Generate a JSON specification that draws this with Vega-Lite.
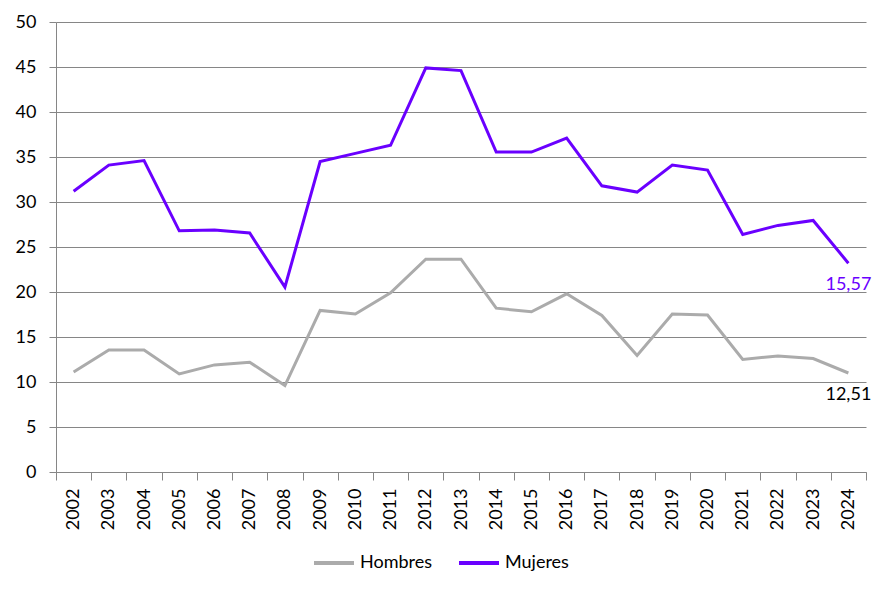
{
  "$schema": "https://vega.github.io/schema/vega-lite/v6.json",
  "width": 810,
  "height": 450,
  "autosize": {"type": "none"},
  "padding": {"left": 56, "top": 22, "right": 21, "bottom": 125},
  "background": "white",
  "data": {
    "values": [
      {"year": "2002", "serie": "Hombres", "value": 11.1},
      {"year": "2003", "serie": "Hombres", "value": 13.55},
      {"year": "2004", "serie": "Hombres", "value": 13.55},
      {"year": "2005", "serie": "Hombres", "value": 10.9},
      {"year": "2006", "serie": "Hombres", "value": 11.9},
      {"year": "2007", "serie": "Hombres", "value": 12.2},
      {"year": "2008", "serie": "Hombres", "value": 9.6},
      {"year": "2009", "serie": "Hombres", "value": 17.95},
      {"year": "2010", "serie": "Hombres", "value": 17.55},
      {"year": "2011", "serie": "Hombres", "value": 19.9},
      {"year": "2012", "serie": "Hombres", "value": 23.65},
      {"year": "2013", "serie": "Hombres", "value": 23.65},
      {"year": "2014", "serie": "Hombres", "value": 18.2},
      {"year": "2015", "serie": "Hombres", "value": 17.8},
      {"year": "2016", "serie": "Hombres", "value": 19.8},
      {"year": "2017", "serie": "Hombres", "value": 17.4},
      {"year": "2018", "serie": "Hombres", "value": 12.95},
      {"year": "2019", "serie": "Hombres", "value": 17.55},
      {"year": "2020", "serie": "Hombres", "value": 17.45},
      {"year": "2021", "serie": "Hombres", "value": 12.5},
      {"year": "2022", "serie": "Hombres", "value": 12.9},
      {"year": "2023", "serie": "Hombres", "value": 12.6},
      {"year": "2024", "serie": "Hombres", "value": 11.0, "label": "12,51"},
      {"year": "2002", "serie": "Mujeres", "value": 31.2},
      {"year": "2003", "serie": "Mujeres", "value": 34.1},
      {"year": "2004", "serie": "Mujeres", "value": 34.6},
      {"year": "2005", "serie": "Mujeres", "value": 26.8},
      {"year": "2006", "serie": "Mujeres", "value": 26.9},
      {"year": "2007", "serie": "Mujeres", "value": 26.55},
      {"year": "2008", "serie": "Mujeres", "value": 20.55},
      {"year": "2009", "serie": "Mujeres", "value": 34.5},
      {"year": "2010", "serie": "Mujeres", "value": 35.4},
      {"year": "2011", "serie": "Mujeres", "value": 36.3},
      {"year": "2012", "serie": "Mujeres", "value": 44.9},
      {"year": "2013", "serie": "Mujeres", "value": 44.6},
      {"year": "2014", "serie": "Mujeres", "value": 35.55},
      {"year": "2015", "serie": "Mujeres", "value": 35.55},
      {"year": "2016", "serie": "Mujeres", "value": 37.1},
      {"year": "2017", "serie": "Mujeres", "value": 31.8},
      {"year": "2018", "serie": "Mujeres", "value": 31.1},
      {"year": "2019", "serie": "Mujeres", "value": 34.1},
      {"year": "2020", "serie": "Mujeres", "value": 33.55},
      {"year": "2021", "serie": "Mujeres", "value": 26.4},
      {"year": "2022", "serie": "Mujeres", "value": 27.4},
      {"year": "2023", "serie": "Mujeres", "value": 27.95},
      {"year": "2024", "serie": "Mujeres", "value": 23.2, "label": "15,57"}
    ]
  },
  "encoding": {
    "x": {
      "field": "year",
      "type": "ordinal",
      "title": null,
      "scale": {"type": "band", "paddingInner": 0, "paddingOuter": 0},
      "axis": {
        "labelAngle": -90,
        "labelAlign": "right",
        "labelBaseline": "middle",
        "labelFontSize": 18,
        "labelPadding": 8,
        "tickBand": "extent",
        "tickSize": 8,
        "tickColor": "#868686",
        "domainColor": "#868686",
        "grid": false
      }
    },
    "y": {
      "field": "value",
      "type": "quantitative",
      "title": null,
      "scale": {"domain": [0, 50], "nice": false},
      "axis": {
        "values": [0, 5, 10, 15, 20, 25, 30, 35, 40, 45, 50],
        "labelFontSize": 18,
        "labelPadding": 13,
        "tickSize": 7,
        "tickColor": "#868686",
        "domainColor": "#868686",
        "gridColor": "#868686",
        "gridOpacity": 1
      }
    }
  },
  "layer": [
    {
      "mark": {"type": "line", "strokeWidth": 3},
      "encoding": {
        "color": {
          "field": "serie",
          "type": "nominal",
          "scale": {"domain": ["Hombres", "Mujeres"], "range": ["#ABABAB", "#6A00FF"]},
          "legend": {
            "title": null,
            "orient": "none",
            "direction": "horizontal",
            "legendX": 256,
            "legendY": 519,
            "symbolType": "stroke",
            "symbolSize": 1600,
            "symbolStrokeWidth": 4,
            "labelFontSize": 18,
            "labelColor": "black",
            "columnPadding": 18,
            "labelOffset": 4
          }
        }
      }
    },
    {
      "transform": [{"filter": "datum.label != null"}],
      "mark": {"type": "text", "fontSize": 18, "align": "center", "baseline": "middle", "dy": 22},
      "encoding": {
        "text": {"field": "label"},
        "color": {
          "condition": {"test": "datum.serie == 'Mujeres'", "value": "#6A00FF"},
          "value": "black"
        }
      }
    }
  ],
  "config": {
    "font": "Lato",
    "view": {"stroke": null},
    "axis": {"labelColor": "black", "labelFont": "Lato"},
    "legend": {"labelFont": "Lato"}
  }
}
